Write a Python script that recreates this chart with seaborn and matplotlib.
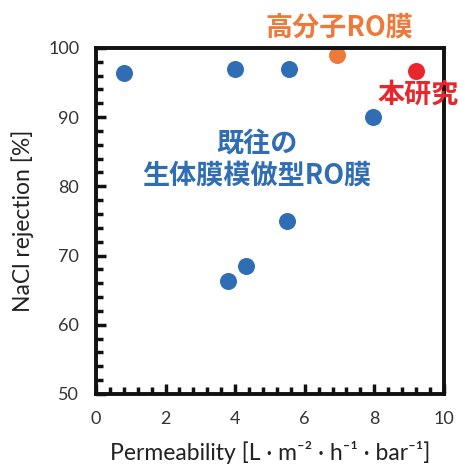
import matplotlib
matplotlib.use("Agg")
import matplotlib.pyplot as plt
from matplotlib.ticker import MultipleLocator
import seaborn as sns

# data
perm_prev = [0.8, 4.0, 5.55, 7.97, 5.5, 4.3, 3.78]
rej_prev = [96.4, 96.9, 96.9, 90.0, 75.0, 68.5, 66.3]
perm_poly = [6.93]
rej_poly = [98.9]
perm_this = [9.21]
rej_this = [96.7]

labels = ["既往の\n生体膜模倣型RO膜", "高分子RO膜", "本研究"]
colors = ["#2f6db5", "#ec7a3a", "#e8262b"]

sns.set_style("ticks")
plt.rcParams['font.family'] = ['Lato', 'Noto Sans CJK JP', 'DejaVu Sans']

fig = plt.figure(figsize=(4.6, 4.69), dpi=100)
ax = fig.add_axes([0.2087, 0.16, 0.7563, 0.738])

sns.scatterplot(x=perm_prev, y=rej_prev, color=colors[0], s=150, linewidth=0, ax=ax)
sns.scatterplot(x=perm_poly, y=rej_poly, color=colors[1], s=150, linewidth=0, ax=ax)
sns.scatterplot(x=perm_this, y=rej_this, color=colors[2], s=150, linewidth=0, ax=ax)

ax.set_xlim(0, 10)
ax.set_ylim(50, 100)
ax.xaxis.set_major_locator(MultipleLocator(2))
ax.yaxis.set_major_locator(MultipleLocator(10))
ax.xaxis.set_minor_locator(MultipleLocator(0.4))
ax.yaxis.set_minor_locator(MultipleLocator(2))
ax.tick_params(which="major", direction="in", length=7, width=2.5, labelsize=13,
               pad=12, left=True, bottom=True, top=False, right=False,
               colors="#111111", labelcolor="#333333")
ax.tick_params(which="minor", direction="in", length=5, width=2.5,
               left=True, bottom=True, top=False, right=False, colors="#111111")

ax.set_xlabel("Permeability [L · m⁻² · h⁻¹ · bar⁻¹]", fontsize=16.5, color="#222222", labelpad=10)
ax.set_ylabel("NaCl rejection [%]", fontsize=16.5, color="#222222", labelpad=10)

jp = ['Noto Sans CJK JP', 'DejaVu Sans']
ax.text(6.98, 103, labels[1], color=colors[1], fontsize=19.5, fontweight="bold",
        family=jp, ha="center", va="center", clip_on=False)
ax.text(9.25, 93.2, labels[2], color=colors[2], fontsize=19.5, fontweight="bold",
        family=jp, ha="center", va="center", clip_on=False)
ax.text(4.63, 83.9, labels[0], color=colors[0], fontsize=19.5,
        fontweight="bold", family=jp, ha="center", va="center", linespacing=1.2)

for sp in ax.spines.values():
    sp.set_linewidth(2.8)
    sp.set_color("#111111")

fig.savefig("out.png", dpi=100)
